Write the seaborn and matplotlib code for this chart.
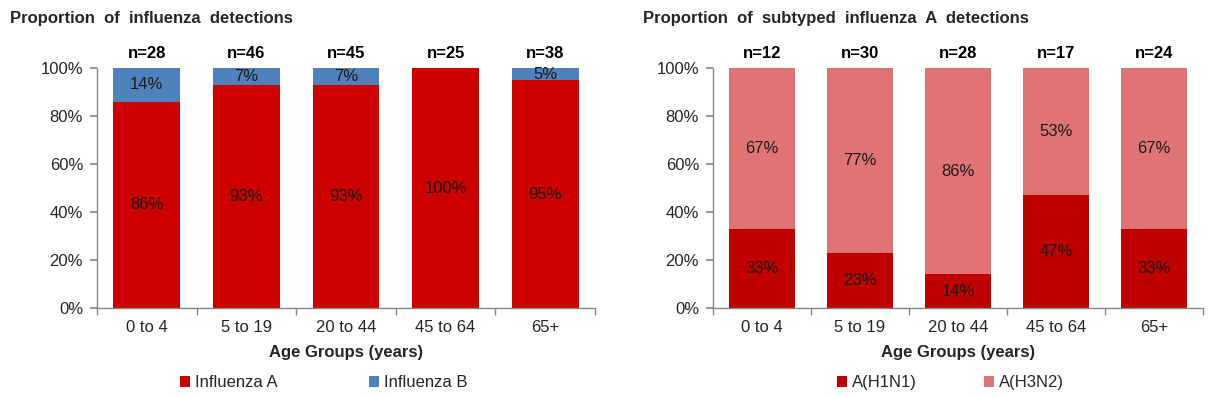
import matplotlib
matplotlib.use("Agg")
import matplotlib.pyplot as plt
import seaborn as sns
import pandas as pd
from matplotlib.patches import Patch

age_groups = ["0 to 4", "5 to 19", "20 to 44", "45 to 64", "65+"]
flu_a = [86, 93, 93, 100, 95]
flu_b = [14, 7, 7, 0, 5]
n_left = [28, 46, 45, 25, 38]
h1n1 = [33, 23, 14, 47, 33]
h3n2 = [67, 77, 86, 53, 67]
n_right = [12, 30, 28, 17, 24]

sns.set_theme(style="white")
plt.rcParams['font.family'] = ['Liberation Sans', 'DejaVu Sans']

fig = plt.figure(figsize=(12.25, 3.98), dpi=100)
axL = fig.add_axes([97/1225, 1-308/398, (595-97)/1225, 240/398])
axR = fig.add_axes([713/1225, 1-308/398, (1203-713)/1225, 240/398])

gray = "#868686"
FS = 12

def draw(ax, bottom_vals, top_vals, ns, c_bottom, c_top, names, title, title_x, leg_x, colsp):
    totals = [a + b for a, b in zip(bottom_vals, top_vals)]
    df = pd.DataFrame({"age": age_groups, "bottom": bottom_vals, "total": totals})
    sns.barplot(data=df, x="age", y="total", color=c_top, saturation=1, width=0.67, ax=ax, linewidth=0)
    sns.barplot(data=df, x="age", y="bottom", color=c_bottom, saturation=1, width=0.67, ax=ax, linewidth=0)
    for i, (b, t, n) in enumerate(zip(bottom_vals, top_vals, ns)):
        if b > 0:
            ax.text(i, b / 2, f"{b}%", ha="center", va="center", fontsize=FS, color="#1a1a1a")
        if t > 0:
            ax.text(i, b + t / 2, f"{t}%", ha="center", va="center", fontsize=FS, color="#1a1a1a")
        ax.text(i, 103, f"n={n}", ha="center", va="bottom", fontsize=FS, fontweight="bold", color="black")
    ax.set_ylim(0, 100)
    ax.set_xlim(-0.5, len(age_groups) - 0.5)
    ax.set_yticks([0, 20, 40, 60, 80, 100])
    ax.set_yticklabels([f"{v}%" for v in [0, 20, 40, 60, 80, 100]], fontsize=FS)
    ax.set_xticks(range(len(age_groups)))
    ax.set_xticklabels(age_groups, fontsize=FS)
    ax.tick_params(axis="x", length=0, pad=9)
    ax.tick_params(axis="y", length=5, color=gray, direction="out", left=True, pad=5)
    ax.set_xticks([i - 0.5 for i in range(len(age_groups) + 1)], minor=True)
    ax.tick_params(axis="x", which="minor", length=5, color=gray, direction="out", bottom=True)
    for s in ["top", "right"]:
        ax.spines[s].set_visible(False)
    for s in ["left", "bottom"]:
        ax.spines[s].set_color(gray)
        ax.spines[s].set_linewidth(1)
    ax.set_xlabel("Age Groups (years)", fontsize=FS, fontweight="bold", labelpad=7)
    ax.set_ylabel("")
    handles = [Patch(facecolor=c_bottom, edgecolor="none"), Patch(facecolor=c_top, edgecolor="none")]
    ax.legend(handles, names, loc="upper center", bbox_to_anchor=(leg_x, -0.218), ncol=2,
              frameon=False, fontsize=FS, handlelength=0.6, handleheight=0.6,
              handletextpad=0.3, columnspacing=colsp)
    fig.text(title_x / 1225, 1 - 18 / 398, title, fontsize=FS, fontweight="bold", va="center", ha="left")

draw(axL, flu_a, flu_b, n_left, "#CC0000", "#4F81BD", ["Influenza A", "Influenza B"],
     "Proportion  of  influenza  detections", 10, 0.455, 5.5)
draw(axR, h1n1, h3n2, n_right, "#C00000", "#E07474", ["A(H1N1)", "A(H3N2)"],
     "Proportion  of  subtyped  influenza  A  detections", 643, 0.485, 4.0)

fig.savefig("out.png", dpi=100, facecolor="white")
